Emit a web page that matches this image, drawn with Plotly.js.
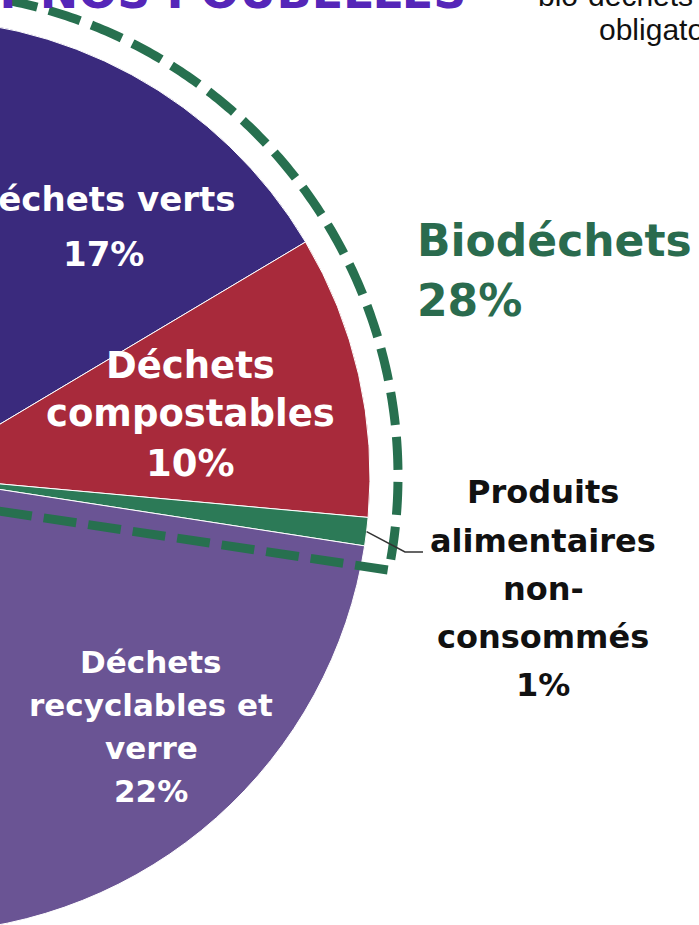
<!DOCTYPE html>
<html><head><meta charset="utf-8">
<script src="https://cdn.plot.ly/plotly-3.0.1.min.js"></script>
<style>
html,body{margin:0;padding:0;width:699px;height:925px;overflow:hidden;background:#fff;}
#chart{position:absolute;left:-987px;top:-24px;width:1800px;height:1000px;}
</style></head><body><div id="chart"></div>
<script>
// ---- data ----
const categories = ["Déchets verts", "Déchets compostables", "Produits alimentaires non-consommés", "Déchets recyclables et verre", "Autres déchets"];
const shares = [17, 10, 1, 22, 50];
const labelLines = [["Déchets verts"], ["Déchets", "compostables"], ["Produits", "alimentaires", "non-", "consommés"], ["Déchets", "recyclables et", "verre"], ["Autres déchets"]];
const isBio = [true, true, true, false, false];
const groupName = "Biodéchets";
const titleText = "CE QUE CONTIENNENT NOS POUBELLES";
const sideNote = ["bio-déchets", "obligatoire"];

// ---- geometry / style ----
const W = 1800, H = 1000, offX = -987, offY = -24;
const CXd = 900, CYd = 500, pieR = 457, rotationDeg = -2;
const pcx = offX + CXd, pcy = offY + CYd; // pie centre in viewport
const px = vx => (vx - offX) / W;
const py = vy => 1 - (vy - offY) / H;
const polarV = (aDeg, r) => { const a = aDeg * Math.PI / 180; return [pcx + r * Math.sin(a), pcy - r * Math.cos(a)]; };
const colors = ['#3a2a7d', '#a82a3b', '#2c7a57', '#6a5494', '#c8c8c8'];
const green = '#27704f';

const total = shares.reduce((a, b) => a + b, 0);
let cum = [0];
shares.forEach((v, i) => cum.push(cum[i] + v));
const angAt = c => rotationDeg + c / total * 360;
const bioSum = shares.reduce((s, v, i) => s + (isBio[i] ? v : 0), 0);
const bioStart = angAt(0), bioEnd = angAt(bioSum);

// dashed outline around the biodéchets
const a0 = bioStart - 3, a1 = bioEnd + 2.4, rd = 485;
let pts = [];
for (let a = a0; a < a1; a += 0.5) pts.push(polarV(a, rd));
pts.push(polarV(a1, rd));
pts.push([pcx, pcy + 22]);
const toP = p => px(p[0]).toFixed(5) + ',' + py(p[1]).toFixed(5);
const outlinePath = 'M' + pts.map(toP).join(' L') + ' Z';

// leader line for the small slice
const iSmall = 2;
const midSmall = angAt(cum[iSmall] + shares[iSmall] / 2);
const lp = [polarV(midSmall, pieR), [405, 552], [423, 552]];
const leaderPath = 'M' + lp.map(toP).join(' L');

const shapes = [
  {type: 'path', xref: 'paper', yref: 'paper', path: outlinePath, layer: 'above',
   line: {color: green, width: 9, dash: '33px,12px'}, fillcolor: 'rgba(0,0,0,0)'},
  {type: 'path', xref: 'paper', yref: 'paper', path: leaderPath, layer: 'above',
   line: {color: '#333333', width: 1.5}}
];

const annotations = [];
function addBlock(lines, vx, ys, font, xanchor) {
  lines.forEach((t, k) => annotations.push({
    xref: 'paper', yref: 'paper', x: px(vx), y: py(ys[k]), text: t, showarrow: false,
    xanchor: xanchor || 'center', yanchor: 'middle', font: font
  }));
}
const white = (s) => ({family: 'DejaVu Sans', size: s, color: '#ffffff', weight: 700});
addBlock(labelLines[0].concat([shares[0] + '%']), 103, [199, 254], white(34));
addBlock(labelLines[1].concat([shares[1] + '%']), 190, [365, 414, 463], white(37));
addBlock(labelLines[3].concat([shares[3] + '%']), 151, [662, 705, 748, 791], white(31));
addBlock(labelLines[2].concat([shares[2] + '%']), 543, [492, 541, 589, 637, 685],
  {family: 'DejaVu Sans', size: 32, color: '#111111', weight: 700});
addBlock([groupName, bioSum + '%'], 415, [240, 301],
  {family: 'DejaVu Sans', size: 44, color: '#2a6b4e', weight: 700}, 'left');
// cropped header texts
annotations.push({xref: 'paper', yref: 'paper', x: px(468), y: py(21), text: titleText, showarrow: false,
  xanchor: 'right', yanchor: 'bottom', font: {family: 'DejaVu Sans', size: 46, color: '#5526b8', weight: 700}});
annotations.push({xref: 'paper', yref: 'paper', x: px(536), y: py(-5), text: sideNote[0], showarrow: false,
  xanchor: 'left', yanchor: 'middle', font: {family: 'Liberation Sans', size: 30, color: '#111111'}});
annotations.push({xref: 'paper', yref: 'paper', x: px(597), y: py(29), text: sideNote[1], showarrow: false,
  xanchor: 'left', yanchor: 'middle', font: {family: 'Liberation Sans', size: 30, color: '#111111'}});

const trace = {
  type: 'pie', labels: categories, values: shares, sort: false, direction: 'clockwise',
  rotation: rotationDeg, textinfo: 'none', hoverinfo: 'none',
  marker: {colors: colors, line: {color: '#ffffff', width: 1}},
  domain: {x: [(CXd - pieR) / W, (CXd + pieR) / W], y: [1 - (CYd + pieR) / H, 1 - (CYd - pieR) / H]}
};

Plotly.newPlot('chart', [trace], {
  width: W, height: H, margin: {l: 0, r: 0, t: 0, b: 0}, showlegend: false,
  paper_bgcolor: '#ffffff', shapes: shapes, annotations: annotations
}, {staticPlot: true, displayModeBar: false});
</script></body></html>
